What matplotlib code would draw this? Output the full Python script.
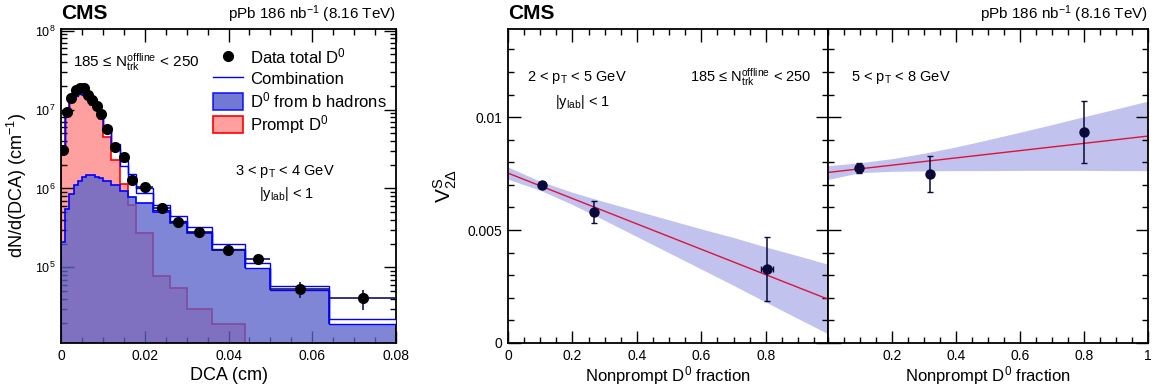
import numpy as np
import matplotlib
matplotlib.use("Agg")
from matplotlib import pyplot as plt
from matplotlib.lines import Line2D
from matplotlib.patches import Patch
from matplotlib.ticker import MultipleLocator, LogLocator, NullFormatter

plt.rcParams['font.family'] = ['Liberation Sans', 'DejaVu Sans']
plt.rcParams['mathtext.fontset'] = 'custom'
plt.rcParams['mathtext.rm'] = 'Liberation Sans'
plt.rcParams['mathtext.it'] = 'Liberation Sans:italic'
plt.rcParams['mathtext.bf'] = 'Liberation Sans:bold'
plt.rcParams['mathtext.default'] = 'regular'

# ---- left panel: DCA template fit ----
dca_edges = [0, 0.001, 0.002, 0.003, 0.004, 0.005, 0.006, 0.007, 0.008, 0.009, 0.010,
             0.012, 0.014, 0.016, 0.018, 0.022, 0.026, 0.030, 0.036, 0.044, 0.050, 0.064, 0.080]
data_y = [3.08e6, 9.2e6, 1.42e7, 1.76e7, 1.9e7, 1.85e7, 1.51e7, 1.31e7, 1.10e7, 8.75e6,
          5.6e6, 3.39e6, 2.53e6, 1.29e6, 1.04e6, 5.6e5, 3.77e5, 2.78e5, 1.64e5, 1.26e5,
          5.28e4, 4.06e4]
data_err = [0.02, 0.02, 0.02, 0.02, 0.02, 0.02, 0.02, 0.02, 0.02, 0.02,
            0.02, 0.03, 0.04, 0.05, 0.06, 0.09, 0.11, 0.13, 0.15, 0.16, 0.22, 0.28]  # relative
prompt = [3.0e6, 8.9e6, 1.25e7, 1.48e7, 1.56e7, 1.52e7, 1.38e7, 1.13e7, 9.8e6, 7.5e6,
          4.5e6, 2.3e6, 1.15e6, 6.2e5, 2.74e5, 7.8e4, 5.5e4, 3.0e4, 1.9e4, 4e3, 2e3, 1e3]
nonprompt = [2.1e5, 5.5e5, 8.5e5, 1.12e6, 1.26e6, 1.41e6, 1.49e6, 1.49e6, 1.41e6, 1.35e6,
             1.23e6, 1.12e6, 9.4e5, 7.9e5, 6.6e5, 5.0e5, 3.65e5, 2.7e5, 1.65e5, 1.02e5,
             5.3e4, 1.95e4]

# ---- right panels: v2 vs nonprompt fraction ----
frac_a = [0.105, 0.268, 0.803]
v2_a = [0.00699, 0.00581, 0.00327]
v2_a_err = [0.00012, 0.00048, 0.00141]
frac_a_err = [0.005, 0.005, 0.018]
line_a = [0.00752, 0.0019]
band_x = [0, 0.1, 0.2, 0.3, 0.4, 0.5, 0.6, 0.7, 0.8, 0.9, 1.0]
band_hi_a = [0.00779, 0.00716, 0.00667, 0.00625, 0.00585, 0.00545, 0.00505, 0.00467, 0.00425, 0.00386, 0.00346]
band_lo_a = [0.00725, 0.00676, 0.00613, 0.00543, 0.00471, 0.00399, 0.00327, 0.00255, 0.00181, 0.00108, 0.00036]

frac_b = [0.097, 0.319, 0.801]
v2_b = [0.00773, 0.00748, 0.00935]
v2_b_err = [0.00022, 0.00081, 0.00138]
frac_b_err = [0.01, 0.004, 0.004]
line_b = [0.00755, 0.00916]
band_hi_b = [0.00785, 0.00798, 0.00816, 0.00840, 0.00868, 0.00900, 0.00933, 0.00967, 0.01002, 0.01036, 0.01071]
band_lo_b = [0.00724, 0.00754, 0.00760, 0.00762, 0.00763, 0.00763, 0.00764, 0.00764, 0.00764, 0.00763, 0.00763]

line_xs = [0, 1]

red_fill = '#ffa0a0'
blue_fill = (89/255, 98/255, 202/255)
band_col = '#c2c2ee'
navy = '#0a0a3a'

fig = plt.figure(figsize=(11.57, 3.9), dpi=100)
ax1 = fig.add_axes([61/1157, 47/390, 335/1157, 314/390])
ax2 = fig.add_axes([508/1157, 47/390, 320/1157, 314/390])
ax3 = fig.add_axes([828/1157, 47/390, 320/1157, 314/390])

edges = np.array(dca_edges)
centers = 0.5 * (edges[1:] + edges[:-1])
halfw = 0.5 * (edges[1:] - edges[:-1])
prompt = np.array(prompt)
nonprompt = np.array(nonprompt)
combo = prompt + nonprompt

ax1.set_yscale('log')
ax1.stairs(prompt, edges, baseline=1, fill=True, facecolor=red_fill, zorder=1)
ax1.stairs(prompt, edges, baseline=1, color='red', lw=1.2, zorder=1.5)
ax1.stairs(nonprompt, edges, baseline=1, fill=True, facecolor=blue_fill, alpha=0.77, zorder=2)
ax1.stairs(nonprompt, edges, baseline=1, color='blue', lw=1.2, zorder=2.5)
ax1.stairs(combo * 1.07, edges, baseline=combo / 1.07, fill=True, facecolor='white',
           edgecolor='blue', lw=1.0, zorder=3)
ax1.errorbar(centers, data_y, xerr=halfw, yerr=np.array(data_y) * np.array(data_err),
             fmt='o', color='black', ecolor='#10106a', elinewidth=1.2, ms=7, zorder=4)
ax1.set_xlim(0, 0.08)
ax1.set_ylim(1.1e4, 1.05e8)
ax1.xaxis.set_minor_locator(MultipleLocator(0.005))
ax1.set_xticks([0, 0.02, 0.04, 0.06, 0.08])
ax1.set_xticklabels(['0', '0.02', '0.04', '0.06', '0.08'])
ax1.yaxis.set_major_locator(LogLocator(base=10, numticks=10))
ax1.yaxis.set_minor_locator(LogLocator(base=10, subs=np.arange(2, 10), numticks=20))
ax1.yaxis.set_minor_formatter(NullFormatter())
ax1.set_xlabel('DCA (cm)', fontsize=13, labelpad=3)
ax1.set_ylabel('dN/d(DCA) (cm$^{-1}$)', fontsize=13, labelpad=4)

ax1.text(0.224, 0.895, '185 ≤ N$_{trk}^{offline}$ < 250', transform=ax1.transAxes,
         ha='center', va='center', fontsize=11)
ax1.text(0.669, 0.545, '3 < p$_{T}$ < 4 GeV', transform=ax1.transAxes,
         ha='center', va='center', fontsize=10.5)
ax1.text(0.672, 0.475, '|y$_{lab}$| < 1', transform=ax1.transAxes,
         ha='center', va='center', fontsize=10.5)

handles = [Line2D([], [], marker='o', color='black', ls='none', ms=7),
           Line2D([], [], color='blue', lw=1.0),
           Patch(facecolor=blue_fill, edgecolor='blue', alpha=0.85, lw=1.2),
           Patch(facecolor=red_fill, edgecolor='red', lw=1.2)]
labels = ['Data total D$^{0}$', 'Combination', 'D$^{0}$ from b hadrons', 'Prompt D$^{0}$']
ax1.legend(handles, labels, loc='upper left', bbox_to_anchor=(0.454, 0.945), frameon=False,
           fontsize=12, handlelength=1.8, handleheight=1.2, labelspacing=0.2,
           handletextpad=0.4, borderpad=0, borderaxespad=0)

# right panels
for ax, fx, fy, fye, fxe, ly, bh, bl in [
        (ax2, frac_a, v2_a, v2_a_err, frac_a_err, line_a, band_hi_a, band_lo_a),
        (ax3, frac_b, v2_b, v2_b_err, frac_b_err, line_b, band_hi_b, band_lo_b)]:
    ax.fill_between(band_x, bl, bh, color=band_col, lw=0, zorder=1)
    ax.plot(line_xs, ly, color='#d8143c', lw=1.0, zorder=2)
    ax.errorbar(fx, fy, yerr=fye, xerr=fxe, fmt='o', color=navy, ms=6.5,
                elinewidth=1.1, capsize=2, capthick=1, zorder=3)
    ax.set_ylim(0, 0.0139)
    ax.xaxis.set_minor_locator(MultipleLocator(0.05))
    ax.yaxis.set_minor_locator(MultipleLocator(0.001))
    ax.set_xlabel('Nonprompt D$^{0}$ fraction', fontsize=12, labelpad=1)

ax2.set_xlim(0, 0.993)
ax2.set_xticks([0, 0.2, 0.4, 0.6, 0.8])
ax2.set_xticklabels(['0', '0.2', '0.4', '0.6', '0.8'])
ax2.set_yticks([0, 0.005, 0.01])
ax2.set_yticklabels(['0', '0.005', '0.01'])
ax2.set_ylabel('V$_{2\\Delta}^{S}$', fontsize=15, labelpad=6)
ax3.set_xlim(0, 1)
ax3.set_xticks([0.2, 0.4, 0.6, 0.8, 1.0])
ax3.set_xticklabels(['0.2', '0.4', '0.6', '0.8', '1'])
ax3.set_yticks([0, 0.005, 0.01])
ax3.set_yticklabels([])

ax2.text(0.059, 0.847, '2 < p$_{T}$ < 5 GeV', transform=ax2.transAxes,
         ha='left', va='center', fontsize=10.5)
ax2.text(0.234, 0.768, '|y$_{lab}$| < 1', transform=ax2.transAxes,
         ha='center', va='center', fontsize=10.5)
ax2.text(0.95, 0.847, '185 ≤ N$_{trk}^{offline}$ < 250', transform=ax2.transAxes,
         ha='right', va='center', fontsize=10.5)
ax3.text(0.072, 0.847, '5 < p$_{T}$ < 8 GeV', transform=ax3.transAxes,
         ha='left', va='center', fontsize=10.5)

for ax in [ax1, ax2, ax3]:
    ax.tick_params(which='both', direction='in', top=True, right=True, labelsize=10, pad=4)
    ax.tick_params(which='major', length=9, width=1)
    ax.tick_params(which='minor', length=4.5, width=1)
    for s in ax.spines.values():
        s.set_linewidth(1.3)
ax1.tick_params(axis='y', which='major', labelsize=9)

# CMS labels
fig.text(61/1157, 1 - 19/390, 'CMS', fontsize=15, fontweight='bold', ha='left', va='baseline')
fig.text(396/1157, 1 - 19/390, 'pPb 186 nb$^{-1}$ (8.16 TeV)', fontsize=11, ha='right', va='baseline')
fig.text(508/1157, 1 - 19/390, 'CMS', fontsize=15, fontweight='bold', ha='left', va='baseline')
fig.text(1148/1157, 1 - 19/390, 'pPb 186 nb$^{-1}$ (8.16 TeV)', fontsize=11, ha='right', va='baseline')

fig.savefig('out.png', dpi=100)
